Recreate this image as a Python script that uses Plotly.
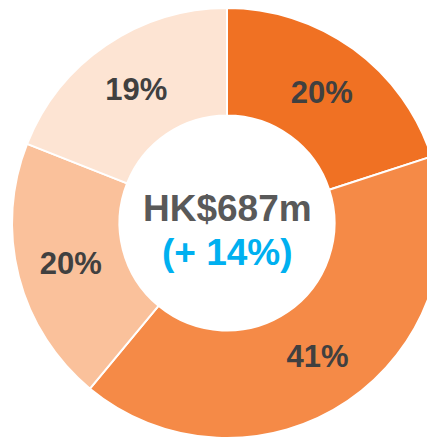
import plotly.graph_objects as go

segments = ["Segment A", "Segment B", "Segment C", "Segment D"]
shares = [20, 41, 20, 19]
colors = ["#F07123", "#F58A47", "#FAC19B", "#FDE4D3"]
center_value = "HK$687m"
center_change = "(+ 14%)"

W, H = 435, 440
# pie box in figure pixels (page body has an 8px offset)
x0, x1 = 4, 434
y0, y1 = 0, 430
fig = go.Figure(go.Pie(
    labels=segments,
    values=shares,
    sort=False,
    direction="clockwise",
    rotation=0,
    hole=0.5,
    marker=dict(colors=colors, line=dict(color="white", width=2)),
    textinfo="percent",
    textposition="inside",
    insidetextorientation="horizontal",
    textfont=dict(family="Liberation Sans, Arial, sans-serif", size=31, color="#404040"),
    texttemplate="<b>%{percent:.0%}</b>",
    hoverinfo="label+percent",
    domain=dict(x=[x0 / W, x1 / W], y=[1 - y1 / H, 1 - y0 / H]),
    showlegend=False,
))

cx = (x0 + x1) / 2 / W
fig.add_annotation(x=cx, y=1 - 200 / H, xref="paper", yref="paper",
                   yanchor="middle",
                   text=f"<b>{center_value}</b>", showarrow=False,
                   font=dict(family="Liberation Sans, Arial, sans-serif", size=37, color="#595959"))
fig.add_annotation(x=cx, y=1 - 245 / H, xref="paper", yref="paper",
                   yanchor="middle",
                   text=f"<b>{center_change}</b>", showarrow=False,
                   font=dict(family="Liberation Sans, Arial, sans-serif", size=37, color="#00B0F0"))

fig.update_layout(width=W, height=H, margin=dict(l=0, r=0, t=0, b=0),
                  paper_bgcolor="white", plot_bgcolor="white")
fig.write_html("out.html")
